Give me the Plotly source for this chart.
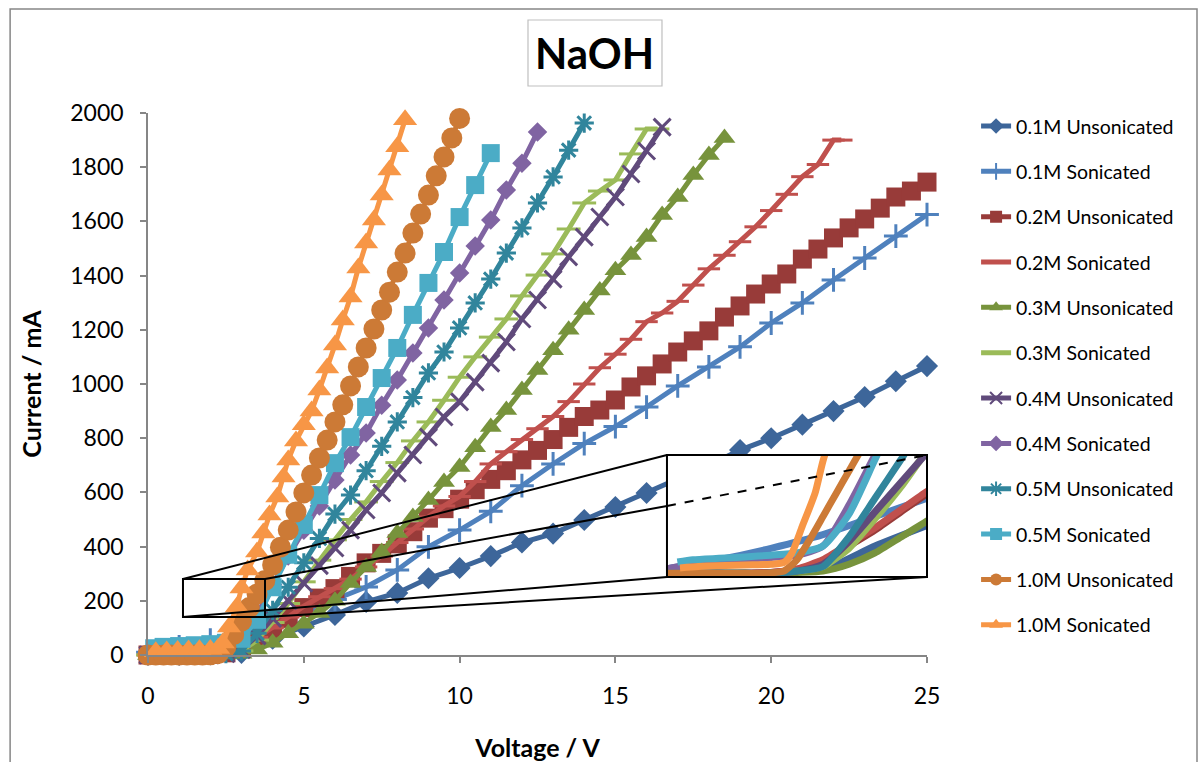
import plotly.graph_objects as go

# ---------------- data ----------------
names = ["0.1M Unsonicated", "0.1M Sonicated", "0.2M Unsonicated", "0.2M Sonicated",
         "0.3M Unsonicated", "0.3M Sonicated", "0.4M Unsonicated", "0.4M Sonicated",
         "0.5M Unsonicated", "0.5M Sonicated", "1.0M Unsonicated", "1.0M Sonicated"]

v_01U = [0, 1, 2, 3, 4, 5, 6, 7, 8, 9, 10, 11, 12, 13, 14, 15, 16, 17, 18, 19, 20, 21, 22, 23, 24, 25]
i_01U = [0, 0, 2, 8, 60, 105, 148, 196, 229, 283, 321, 365, 415, 448, 498, 546, 598, 650, 700, 756, 800, 850, 900, 952, 1010, 1066]

v_01S = [0, 1, 2, 3, 4, 5, 6, 7, 8, 9, 10, 11, 12, 13, 14, 15, 16, 17, 18, 19, 20, 21, 22, 23, 24, 25]
i_01S = [10, 30, 55, 85, 125, 165, 205, 251, 314, 399, 461, 530, 625, 705, 780, 843, 915, 993, 1063, 1137, 1225, 1299, 1384, 1465, 1546, 1625]

v_02U = [0, 0.5, 1, 1.5, 2, 2.5, 3, 3.5, 4, 4.5, 5, 5.5, 6, 6.5, 7, 7.5, 8, 8.5, 9, 9.5, 10, 10.5, 11, 11.5, 12, 12.5,
         13, 13.5, 14, 14.5, 15, 15.5, 16, 16.5, 17, 17.5, 18, 18.5, 19, 19.5, 20, 20.5, 21, 21.5, 22, 22.5, 23, 23.5, 24, 24.5, 25]
i_02U = [0, 0, 0, 0, 2, 8, 25, 60, 95, 135, 175, 210, 245, 290, 340, 375, 410, 455, 505, 540, 575, 610, 648, 680, 720, 755,
         795, 840, 880, 904, 941, 989, 1030, 1074, 1118, 1159, 1196, 1247, 1288, 1332, 1369, 1406, 1461, 1498, 1539, 1576, 1609, 1649, 1690, 1712, 1745]

v_02S = [0, 0.5, 1, 1.5, 2, 2.5, 3, 3.5, 4, 4.5, 5, 5.5, 6, 6.5, 7, 7.5, 8, 8.5, 9, 9.5, 10, 10.5, 11, 11.5, 12, 12.5,
         13, 13.5, 14, 14.5, 15, 15.5, 16, 16.5, 17, 17.5, 18, 18.5, 19, 19.5, 20, 20.5, 21, 21.5, 22, 22.25]
i_02S = [0, 0, 0, 0, 2, 10, 30, 65, 100, 140, 180, 215, 245, 280, 325, 365, 415, 465, 510, 550, 585, 640, 705, 750, 795, 835,
         880, 935, 1000, 1060, 1110, 1165, 1230, 1262, 1305, 1365, 1425, 1475, 1525, 1580, 1640, 1700, 1765, 1810, 1900, 1900]

v_03U = [0, 0.5, 1, 1.5, 2, 2.5, 3, 3.5, 4, 4.5, 5, 5.5, 6, 6.5, 7, 7.5, 8, 8.5, 9, 9.5, 10, 10.5, 11, 11.5, 12, 12.5,
         13, 13.5, 14, 14.5, 15, 15.5, 16, 16.5, 17, 17.5, 18, 18.5]
i_03U = [0, 0, 0, 0, 0, 2, 5, 20, 45, 80, 115, 155, 200, 266, 325, 380, 450, 509, 572, 638, 694, 767, 841, 904, 978, 1052,
         1125, 1200, 1273, 1345, 1420, 1476, 1542, 1624, 1690, 1771, 1845, 1908]

v_03S = [0, 0.5, 1, 1.5, 2, 2.5, 3, 3.5, 4, 4.5, 5, 5.5, 6, 6.5, 7, 7.5, 8, 8.5, 9, 9.5, 10, 10.5, 11, 11.5, 12, 12.5,
         13, 13.5, 14, 14.5, 15, 15.5, 16, 16.35]
i_03S = [0, 0, 0, 0, 0, 5, 15, 55, 120, 190, 270, 350, 425, 500, 565, 640, 710, 790, 860, 940, 1025, 1100, 1173, 1240, 1325, 1402,
         1480, 1572, 1668, 1712, 1753, 1849, 1941, 1941]

v_04U = [0, 0.5, 1, 1.5, 2, 2.5, 3, 3.5, 4, 4.5, 5, 5.5, 6, 6.5, 7, 7.5, 8, 8.5, 9, 9.5, 10, 10.5, 11, 11.5, 12, 12.5,
         13, 13.5, 14, 14.5, 15, 15.5, 16, 16.5]
i_04U = [0, 0, 0, 0, 0, 5, 20, 70, 135, 200, 265, 330, 395, 461, 535, 598, 671, 738, 804, 878, 934, 1007, 1077, 1155, 1240, 1310,
         1387, 1469, 1542, 1616, 1690, 1775, 1860, 1948]

v_04S = [0, 0.5, 1, 1.5, 2, 2.5, 3, 3.5, 4, 4.5, 5, 5.5, 6, 6.5, 7, 7.5, 8, 8.5, 9, 9.5, 10, 10.5, 11, 11.5, 12, 12.5]
i_04S = [10, 20, 25, 30, 35, 40, 60, 150, 260, 365, 460, 550, 646, 738, 819, 922, 1015, 1114, 1207, 1310, 1410, 1509, 1605, 1716, 1815, 1930]

v_05U = [0, 0.5, 1, 1.5, 2, 2.5, 3, 3.5, 4, 4.5, 5, 5.5, 6, 6.5, 7, 7.5, 8, 8.5, 9, 9.5, 10, 10.5, 11, 11.5, 12, 12.5, 13, 13.5, 14]
i_05U = [0, 0, 0, 0, 0, 5, 15, 80, 165, 250, 340, 430, 520, 590, 680, 770, 860, 950, 1041, 1118, 1207, 1299, 1387, 1483, 1576, 1668, 1764, 1863, 1963]

v_05S = [0.2, 0.5, 1, 1.5, 2, 2.5, 3, 3.5, 4, 4.5, 5, 5.5, 6, 6.5, 7, 7.5, 8, 8.5, 9, 9.5, 10, 10.5, 11]
i_05S = [25, 30, 33, 36, 40, 45, 60, 130, 250, 370, 480, 590, 708, 804, 915, 1022, 1133, 1255, 1373, 1487, 1616, 1734, 1852]

v_10U = [0, 0.25, 0.5, 0.75, 1, 1.25, 1.5, 1.75, 2, 2.25, 2.5, 2.75, 3, 3.25, 3.5, 3.75, 4, 4.25, 4.5, 4.75, 5,
         5.25, 5.5, 5.75, 6, 6.25, 6.5, 6.75, 7, 7.25, 7.5, 7.75, 8, 8.25, 8.5, 8.75, 9, 9.25, 9.5, 9.75, 10]
i_10U = [0, 0, 0, 0, 0, 0, 0, 0, 1, 5, 30, 75, 125, 175, 225, 275, 332, 398, 461, 528, 598,
         664, 727, 793, 860, 923, 993, 1063, 1133, 1203, 1273, 1339, 1413, 1483, 1557, 1627, 1697, 1768, 1838, 1908, 1980]

v_10S = [0.25, 0.6, 0.95, 1.3, 1.65, 2.0, 2.25, 2.4, 2.6, 2.85, 3.0, 3.2, 3.5, 3.7, 3.9, 4.15, 4.35, 4.5, 4.75, 5.0,
         5.25, 5.5, 5.75, 6.0, 6.25, 6.5, 6.75, 7.0, 7.25, 7.5, 7.75, 8.0, 8.25]
i_10S = [12, 15, 17, 18, 19, 20, 24, 44, 103, 177, 247, 314, 380, 450, 517, 583, 657, 720, 790, 850,
         900, 978, 1059, 1144, 1236, 1321, 1428, 1520, 1605, 1697, 1790, 1875, 1975]

volts = [v_01U, v_01S, v_02U, v_02S, v_03U, v_03S, v_04U, v_04S, v_05U, v_05S, v_10U, v_10S]
currents = [i_01U, i_01S, i_02U, i_02S, i_03U, i_03S, i_04U, i_04S, i_05U, i_05S, i_10U, i_10S]

x_ticks = [0, 5, 10, 15, 20, 25]
y_ticks = [0, 200, 400, 600, 800, 1000, 1200, 1400, 1600, 1800, 2000]

# ---------------- styles ----------------
colors = ["#3D669A", "#4F81BD", "#983B39", "#C0504D", "#77933C", "#9BBB59",
          "#604A7B", "#8064A2", "#31859C", "#4BACC6", "#CC7A36", "#F79646"]
symbols = ["diamond", "cross-thin-open", "square", "line-ew-open", "triangle-up", "line-ew-open",
           "x-thin-open", "diamond", "asterisk-open", "square", "circle", "triangle-up"]
msizes = [17, 17, 19, 16, 19, 17, 17, 15, 16, 18, 21, 21]

FONT = "Lato"
fig = go.Figure()

for k in range(12):
    open_sym = symbols[k].endswith("open")
    fig.add_trace(go.Scatter(
        x=volts[k], y=currents[k], name=names[k], mode="lines+markers",
        legendgroup=names[k],
        line=dict(color=colors[k], width=5),
        marker=dict(symbol=symbols[k], size=msizes[k], color=colors[k],
                    line=dict(color=colors[k], width=3 if open_sym else 0)),
        cliponaxis=False,
    ))

# inset (zoomed copy of the low-voltage region)
for k in range(12):
    fig.add_trace(go.Scatter(
        x=volts[k], y=currents[k], mode="lines", showlegend=False, hoverinfo="skip",
        line=dict(color=colors[k], width=7, shape="spline", smoothing=0.6),
        xaxis="x2", yaxis="y2",
    ))

axis_col = "#868686"
INSET_Y = [-8, 260]
fig.update_layout(
    width=1200, height=762,
    margin=dict(l=148, r=273, t=113, b=107),
    paper_bgcolor="white", plot_bgcolor="white",
    font=dict(family=FONT, color="#000000"),
    showlegend=True,
    legend=dict(x=1.063, y=1.0115, xanchor="left", yanchor="top",
                font=dict(family=FONT, size=19.5, color="#000000"),
                tracegroupgap=17, itemsizing="constant", bgcolor="rgba(0,0,0,0)",
                maxheight=700),
    xaxis=dict(range=[0, 25], tickvals=x_ticks, showgrid=False, zeroline=False,
               showline=True, linecolor=axis_col, linewidth=1.5, automargin=False,
               ticks="outside", ticklen=6, tickcolor=axis_col, tickwidth=1.5,
               tickfont=dict(family=FONT, size=23), ticklabelstandoff=14,
               title=dict(text="<b>Voltage / V</b>", font=dict(family=FONT, size=25), standoff=36)),
    yaxis=dict(range=[0, 2000], tickvals=y_ticks, showgrid=False, zeroline=False,
               showline=True, linecolor=axis_col, linewidth=1.5, automargin=False,
               ticks="outside", ticklen=6, tickcolor=axis_col, tickwidth=1.5,
               tickfont=dict(family=FONT, size=23), ticklabelstandoff=12,
               title=dict(text="<b>Current / mA</b>", font=dict(family=FONT, size=25), standoff=22)),
    xaxis2=dict(domain=[0.6662, 1.0], range=[0, 5], anchor="y2", visible=False, fixedrange=True),
    yaxis2=dict(domain=[0.1439, 0.3690], range=INSET_Y, anchor="x2", visible=False, fixedrange=True),
)

shapes = [
    # white background of the inset, drawn in the inset subplot layer
    dict(type="rect", xref="x2", yref="y2", x0=0, x1=5, y0=INSET_Y[0], y1=INSET_Y[1],
         fillcolor="white", line=dict(width=0), layer="below"),
    # outer chart frame
    dict(type="rect", xref="paper", yref="paper", x0=-0.177, x1=1.3466, y0=-0.3, y1=1.1919,
         line=dict(color=axis_col, width=1.5), layer="above"),
    # title box
    dict(type="rect", xref="paper", yref="paper", x0=0.4878, x1=0.6598, y0=1.0498, y1=1.1716,
         line=dict(color="#BFBFBF", width=1.2), fillcolor="white", layer="above"),
    # small selection box
    dict(type="rect", xref="paper", yref="paper", x0=0.0449, x1=0.1502, y0=0.0701, y1=0.1402,
         line=dict(color="black", width=2), layer="above"),
    # inset frame
    dict(type="rect", xref="paper", yref="paper", x0=0.6662, x1=1.0, y0=0.1439, y1=0.3690,
         line=dict(color="black", width=2), layer="above"),
    # connector lines
    dict(type="line", xref="paper", yref="paper", x0=0.0449, y0=0.1402, x1=0.6662, y1=0.3690,
         line=dict(color="black", width=2), layer="above"),
    dict(type="line", xref="paper", yref="paper", x0=0.1502, y0=0.1402, x1=0.6662, y1=0.2749,
         line=dict(color="black", width=2), layer="above"),
    dict(type="line", xref="paper", yref="paper", x0=0.6662, y0=0.2749, x1=1.0, y1=0.3690,
         line=dict(color="black", width=2, dash="dash"), layer="above"),
    dict(type="line", xref="paper", yref="paper", x0=0.0449, y0=0.0701, x1=0.6662, y1=0.1439,
         line=dict(color="black", width=2), layer="above"),
    dict(type="line", xref="paper", yref="paper", x0=0.1502, y0=0.0701, x1=1.0, y1=0.1439,
         line=dict(color="black", width=2), layer="above"),
]
fig.update_layout(shapes=shapes)

fig.add_annotation(text="<b>NaOH</b>", xref="paper", yref="paper", x=0.5738, y=1.1107,
                   xanchor="center", yanchor="middle", showarrow=False,
                   font=dict(family=FONT, size=42, color="#000000"))

fig.write_html("out.html", config={"displayModeBar": False},
               post_script="document.body.style.margin='0px';")
